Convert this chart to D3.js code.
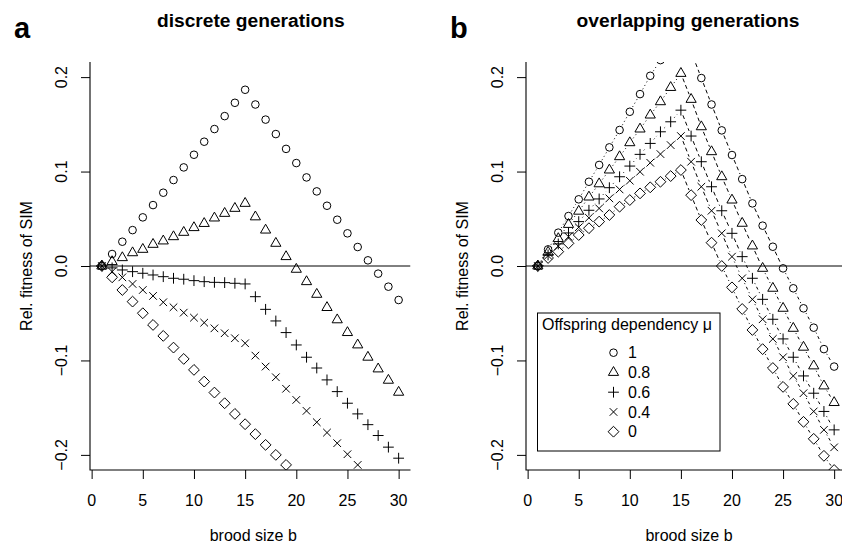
<!DOCTYPE html>
<html><head><meta charset="utf-8">
<script src="https://cdn.jsdelivr.net/npm/d3@7"></script>
<style>body{margin:0;background:#fff}svg{display:block}</style>
</head><body><svg id="c" width="842" height="547"></svg>
<script>
// ---------- data ----------
const broodSize = [1,2,3,4,5,6,7,8,9,10,11,12,13,14,15,16,17,18,19,20,21,22,23,24,25,26,27,28,29,30];
const xTicks = [0,5,10,15,20,25,30];
const yTicks = [-0.2,-0.1,0,0.1,0.2];
const yTickLabels = ["\u22120.2","\u22120.1","0.0","0.1","0.2"];
const muLabels = ["1","0.8","0.6","0.4","0"];
const muShapes = ["circle","triangle","plus","cross","diamond"];
const panelTitles = ["discrete generations","overlapping generations"];
const panelLetters = ["a","b"];
const xLabel = "brood size b";
const yLabel = "Rel. fitness of SIM";
const legendTitle = "Offspring dependency \u03bc";

// panel a: discrete generations
const discMu1  = [0,0.0127,0.0257,0.038,0.0515,0.0645,0.0776,0.091,0.1044,0.1178,0.1316,0.145,0.1587,0.1728,0.1866,0.171,0.155,0.1397,0.124,0.109,0.0938,0.079,0.0638,0.049,0.0346,0.0201,0.006,-0.0081,-0.0219,-0.036];
const discMu08 = [0,0.0046,0.0088,0.014,0.0176,0.0229,0.0265,0.031,0.0356,0.0406,0.045,0.0508,0.0557,0.061,0.0663,0.052,0.038,0.024,0.0099,-0.0035,-0.0166,-0.030,-0.044,-0.057,-0.0705,-0.0836,-0.0966,-0.109,-0.121,-0.1337];
const discMu06 = [0,-0.002,-0.0042,-0.006,-0.0077,-0.0095,-0.0113,-0.013,-0.014,-0.0155,-0.0166,-0.0173,-0.0176,-0.0183,-0.019,-0.0325,-0.0459,-0.0582,-0.0705,-0.0836,-0.0966,-0.108,-0.1206,-0.133,-0.1453,-0.1566,-0.168,-0.1795,-0.1918,-0.2035];
const discMu04 = [0,-0.006,-0.012,-0.019,-0.0254,-0.0317,-0.0384,-0.0437,-0.0494,-0.0547,-0.06,-0.066,-0.0712,-0.0765,-0.0818,-0.0949,-0.1065,-0.1178,-0.130,-0.1418,-0.1534,-0.1654,-0.1764,-0.1876,-0.1993,-0.2106,null,null,null,null];
const discMu0  = [0,-0.012,-0.0254,-0.0377,-0.05,-0.0624,-0.074,-0.0864,-0.0984,-0.110,-0.1224,-0.134,-0.1453,-0.1566,-0.1675,-0.178,-0.1894,-0.200,-0.2106,null,null,null,null,null,null,null,null,null,null,null];

// panel b: overlapping generations
const overMu1  = [0,0.0176,0.0353,0.0529,0.0706,0.0892,0.107,0.1256,0.144,0.1633,0.182,0.2014,0.218,0.237,0.256,0.227,0.199,0.171,0.1436,0.1175,0.092,0.0663,0.0427,0.0204,-0.0025,-0.0236,-0.0448,-0.0653,-0.088,-0.1065];
const overMu08 = [0,0.0146,0.029,0.044,0.058,0.073,0.087,0.1016,0.1157,0.1305,0.145,0.1598,0.1739,0.189,0.2039,0.1764,0.1474,0.121,0.0945,0.0698,0.0452,0.0212,-0.0025,-0.0236,-0.0448,-0.066,-0.086,-0.1058,-0.127,-0.1446];
const overMu06 = [0,0.0117,0.0234,0.035,0.047,0.059,0.071,0.0829,0.0945,0.1058,0.1182,0.1298,0.1421,0.1527,0.165,0.1376,0.1104,0.0839,0.0585,0.0346,0.0099,-0.013,-0.0353,-0.0564,-0.0772,-0.0966,-0.1164,-0.1347,-0.154,-0.1735];
const overMu04 = [0,0.011,0.021,0.031,0.041,0.051,0.061,0.0716,0.0811,0.0903,0.0998,0.1093,0.1185,0.128,0.1376,0.1104,0.0839,0.0585,0.0346,0.0099,-0.013,-0.0353,-0.0564,-0.0772,-0.0966,-0.1164,-0.1347,-0.154,-0.1735,-0.192];
const overMu0  = [0,0.0085,0.0152,0.024,0.0328,0.04,0.047,0.054,0.0628,0.0698,0.0769,0.0833,0.0892,0.0952,0.1016,0.075,0.0487,0.0247,0.0,-0.0226,-0.0455,-0.0677,-0.088,-0.108,-0.128,-0.146,-0.165,-0.183,-0.201,-0.216];

const discSeries = [discMu1,discMu08,discMu06,discMu04,discMu0];
const overSeries = [overMu1,overMu08,overMu06,overMu04,overMu0];

// ---------- drawing ----------
const svg = d3.select("#c");
const FONT = "'Liberation Sans', Arial, Helvetica, sans-serif";
const FS = 16;
const plotTop = 62, plotBottom = 470;

function symbolPath(shape){
  const s = 3.8, q = 5.4;
  switch(shape){
    case "circle": { const p = d3.path(); p.moveTo(s,0); p.arc(0,0,s,0,2*Math.PI); p.closePath(); return p.toString(); }
    case "triangle": { const r = 5.9, hb = 5.1; return `M0,${-r}L${hb},${r/2}L${-hb},${r/2}Z`; }
    case "plus": return `M${-q},0H${q}M0,${-q}V${q}`;
    case "cross": return `M${-s},${-s}L${s},${s}M${-s},${s}L${s},${-s}`;
    case "diamond": return `M0,${-q}L${q},0L0,${q}L${-q},0Z`;
  }
}

function panel(idx, left, right, series, withLines){
  const x = d3.scaleLinear().domain([-0.16, 31.16]).range([left, right]);
  const y = d3.scaleLinear().domain([-0.216, 0.216]).range([plotBottom, plotTop]);
  const g = svg.append("g");
  const clipId = "clip" + idx;
  svg.append("clipPath").attr("id", clipId).append("rect")
    .attr("x", left).attr("y", plotTop).attr("width", right - left).attr("height", plotBottom - plotTop);

  // axes
  const xa = g.append("g").attr("transform", `translate(0,${plotBottom})`)
    .call(d3.axisBottom(x).tickValues(xTicks).tickSize(9).tickSizeOuter(0).tickFormat(d3.format("d")));
  xa.select(".domain").remove();
  xa.selectAll("line").attr("stroke", "#000");
  xa.selectAll("text").remove();
  xTicks.forEach(t => {
    g.append("text").attr("x", x(t)).attr("y", 506).attr("text-anchor", "middle")
      .attr("font-family", FONT).attr("font-size", FS).text(t);
  });
  const ya = g.append("g").attr("transform", `translate(${left},0)`)
    .call(d3.axisLeft(y).tickValues(yTicks).tickSize(9).tickSizeOuter(0));
  ya.select(".domain").remove();
  ya.selectAll("line").attr("stroke", "#000");
  ya.selectAll("text").remove();
  yTicks.forEach((t, i) => {
    g.append("text").attr("transform", `translate(${left - 23},${y(t)}) rotate(-90)`)
      .attr("text-anchor", "middle").attr("font-family", FONT).attr("font-size", FS).text(yTickLabels[i]);
  });
  // L box
  g.append("path").attr("d", `M${left},${plotTop}V${plotBottom}H${right}`).attr("fill", "none").attr("stroke", "#000").attr("stroke-width", 1.1);

  // labels
  g.append("text").attr("x", (left + right) / 2 + 3).attr("y", 541).attr("text-anchor", "middle")
    .attr("font-family", FONT).attr("font-size", FS).text(xLabel);
  g.append("text").attr("transform", `translate(${left - 58},${(plotTop + plotBottom) / 2}) rotate(-90)`)
    .attr("text-anchor", "middle").attr("font-family", FONT).attr("font-size", FS).text(yLabel);
  g.append("text").attr("x", (left + right) / 2 + (idx ? 2 : 0.5)).attr("y", 27).attr("text-anchor", "middle")
    .attr("font-family", FONT).attr("font-size", 19.2).attr("font-weight", "bold").text(panelTitles[idx]);
  g.append("text").attr("x", left - 76).attr("y", 38)
    .attr("font-family", FONT).attr("font-size", 29).attr("font-weight", "bold").text(panelLetters[idx]);

  const plot = g.append("g").attr("clip-path", `url(#${clipId})`);
  // reference line at 0
  plot.append("line").attr("x1", left).attr("x2", right).attr("y1", y(0)).attr("y2", y(0))
    .attr("stroke", "#000").attr("stroke-width", 1);

  series.forEach((vals, si) => {
    if (withLines) {
      const gap = 5.5;
      for (let i = 0; i < vals.length - 1; i++) {
        if (vals[i] == null || vals[i+1] == null) continue;
        const x0 = x(broodSize[i]), y0 = y(vals[i]), x1 = x(broodSize[i+1]), y1 = y(vals[i+1]);
        const L = Math.hypot(x1 - x0, y1 - y0);
        if (L <= 2 * gap) continue;
        const ux = (x1 - x0) / L, uy = (y1 - y0) / L;
        let dash;
        if (i < 14) dash = "1,3";
        else if ((vals[i] + vals[i+1]) / 2 >= 0) dash = "4,3";
        else dash = "1,3,3,3";
        plot.append("line")
          .attr("x1", x0 + ux * gap).attr("y1", y0 + uy * gap)
          .attr("x2", x1 - ux * gap).attr("y2", y1 - uy * gap)
          .attr("stroke", "#000").attr("stroke-width", 1).attr("stroke-dasharray", dash);
      }
    }
    plot.append("g").selectAll("path")
      .data(broodSize.map((b, i) => ({b, v: vals[i]})).filter(d => d.v != null))
      .join("path")
      .attr("transform", d => `translate(${x(d.b)},${y(d.v)})`)
      .attr("d", symbolPath(muShapes[si]))
      .attr("fill", "none").attr("stroke", "#000").attr("stroke-width", 1);
  });
  return {x, y};
}

panel(0, 90, 410.5, discSeries, false);
panel(1, 526, 846, overSeries, true);

// legend (panel b)
const lg = svg.append("g");
lg.append("rect").attr("x", 537.5).attr("y", 313).attr("width", 182.5).attr("height", 138)
  .attr("fill", "#fff").attr("stroke", "#000").attr("stroke-width", 1);
lg.append("text").attr("x", 542).attr("y", 330).attr("font-family", FONT).attr("font-size", FS).text(legendTitle);
muLabels.forEach((lab, i) => {
  const cy = 352.7 + i * 19.75;
  lg.append("path").attr("transform", `translate(613.5,${cy})`).attr("d", symbolPath(muShapes[i]))
    .attr("fill", "none").attr("stroke", "#000").attr("stroke-width", 1);
  lg.append("text").attr("x", 628).attr("y", cy + 5.7).attr("font-family", FONT).attr("font-size", FS).text(lab);
});
</script></body></html>
